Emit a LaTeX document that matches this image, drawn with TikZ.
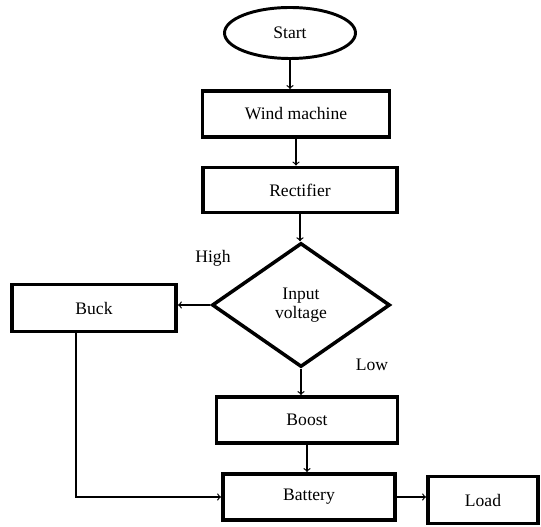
\documentclass[tikz,border=0pt]{standalone}
\usepackage{fontspec}
\setmainfont{Liberation Serif}
\usetikzlibrary{shapes.geometric}

\begin{document}
\begin{tikzpicture}
% Flowchart style
\tikzset{
    block/.style={draw, rectangle, line width=2.8pt, inner sep=0pt},
    term/.style={draw, ellipse, line width=2.1pt, inner sep=0pt},
    decision/.style={draw, diamond, line width=2.5pt, inner sep=0pt, align=center},
    link/.style={->, line width=0.9pt},
    every node/.style={font=\fontsize{12.5}{14}\selectfont}
}
\useasboundingbox (0,0) rectangle (13.525,-13.175);

% Blocks
\node[term, minimum width=3.275cm, minimum height=1.275cm] (start) at (7.25,-0.825){Start};
\node[block, minimum width=4.675cm, minimum height=1.15cm] (wind) at (7.4,-2.85){Wind machine};
\node[block, minimum width=4.85cm, minimum height=1.125cm] (rect) at (7.5,-4.75){Rectifier};
\node[decision, minimum width=4.45cm, minimum height=3.1cm] (input) at (7.525,-7.625){Input\\voltage};
\node[block, minimum width=4.1cm, minimum height=1.175cm] (buck) at (2.35,-7.7){Buck};
\node[block, minimum width=4.525cm, minimum height=1.15cm] (boost) at (7.675,-10.5){Boost};
\node[block, minimum width=4.3cm, minimum height=1.15cm] (battery) at (7.725,-12.425){Battery};
\node[block, minimum width=2.75cm, minimum height=1.175cm] (load) at (12.075,-12.5){Load};

% Labels
\node (high) at (5.325,-6.45){High};
\node (low) at (9.3,-9.125){Low};

% Connection
\draw[link] (start.south) -- (start.south |- wind.north);
\draw[link] (wind.south) -- (wind.south |- rect.north);
\draw[link] (rect.south) -- (rect.south |- input.north);
\draw[link] (input.west) -- (input.west -| buck.east);
\draw[link] (input.south) -- (input.south |- boost.north);
\draw[link] (boost.south) -- (boost.south |- battery.north);
\draw[link] ([xshift=-0.45cm]buck.south) |- (battery.west);
\draw[link] (battery.east) -- (battery.east -| load.west);

\end{tikzpicture}
\end{document}
